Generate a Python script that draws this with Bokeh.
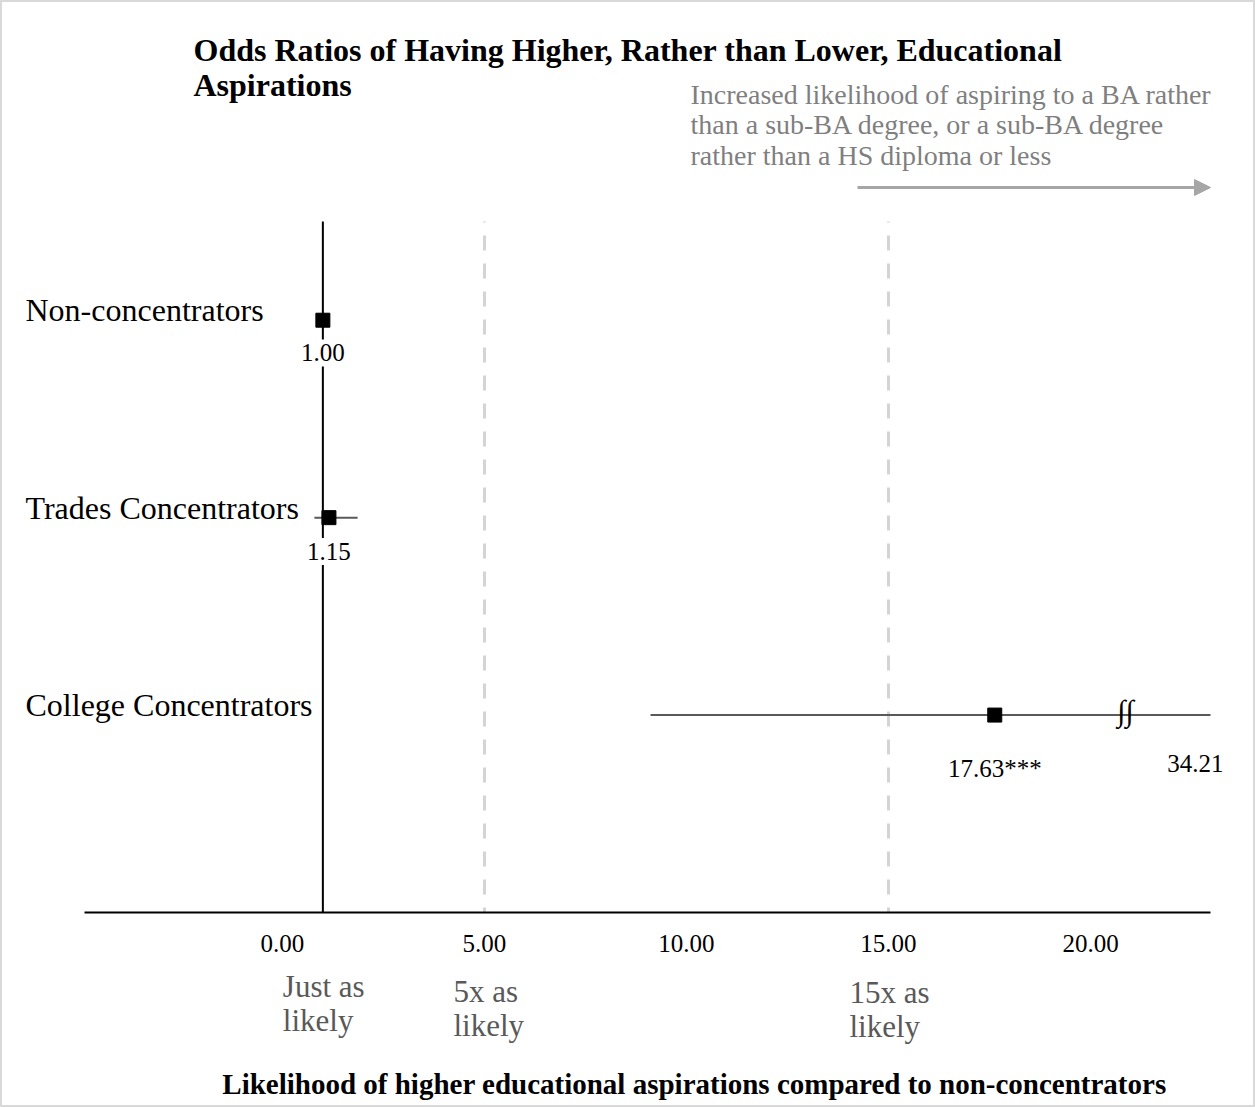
from bokeh.plotting import figure
from bokeh.models import Range1d, Arrow, NormalHead
from bokeh.core.properties import value
from bokeh.embed import file_html
from bokeh.resources import INLINE

# ---------------- data ----------------
categories = ["Non-concentrators", "Trades Concentrators", "College Concentrators"]
odds_ratio = [1.00, 1.15, 17.63]
ci_lower = [1.00, 0.79, 9.11]
ci_upper = [1.00, 1.86, 34.21]
significance = ["", "", "***"]
tick_values = [0, 5, 10, 15, 20]
reference_value = 1.0
dashed_refs = [5, 15]
guide_values = [1, 5, 15]
guide_lines = [["Just as", "likely"], ["5x as", "likely"], ["15x as", "likely"]]
title_lines = ["Odds Ratios of Having Higher, Rather than Lower, Educational", "Aspirations"]
note_lines = ["Increased likelihood of aspiring to a BA rather",
              "than a sub-BA degree, or a sub-BA degree",
              "rather than a HS diploma or less"]
x_title = "Likelihood of higher educational aspirations compared to non-concentrators"

# ---------------- layout ----------------
W, H = 1255, 1107
FL, FR, FT, FB = 84, 1210, 221, 912          # plot-area edges in pixels
X_MIN, X_MAX = -4.90, 22.97                  # value axis extent
Y_MIN, Y_MAX = 0.0, 3.5
FONT = "Liberation Serif"
BASE_FIX = 0.37                              # baseline correction (fraction of font size)

sx = (FR - FL) / (X_MAX - X_MIN)
sy = (FB - FT) / (Y_MAX - Y_MIN)


def dx(px):
    return X_MIN + (px - FL) / sx


def dy(py):
    return Y_MIN + (FB - py) / sy


rows = list(range(len(categories), 0, -1))

p = figure(width=W, height=H,
           x_range=Range1d(dx(0), dx(W)), y_range=Range1d(dy(H), dy(0)),
           output_backend="svg", toolbar_location=None,
           x_axis_location=None, y_axis_location=None, min_border=0)
p.outline_line_color = "#d9d9d9"
p.outline_line_width = 3
p.background_fill_color = "white"
p.border_fill_color = "white"
for g in p.grid:
    g.visible = False


def put(x, y, texts, size, color="black", align="left", baseline="alphabetic",
        style="normal", **kw):
    fs = float(size.replace("px", ""))
    shift = BASE_FIX * fs / sy if baseline == "alphabetic" else 5 / sy
    p.text(x=x, y=[v + shift for v in y], text=texts, text_font=value(FONT),
           text_font_size=value(size), text_color=color, text_align=align,
           text_baseline=baseline, text_font_style=value(style), **kw)


# dashed guide lines (behind the data)
p.segment(x0=dashed_refs, x1=dashed_refs, y0=[Y_MAX] * len(dashed_refs),
          y1=[Y_MIN] * len(dashed_refs), line_color="#d4d4d4", line_width=3,
          line_dash="15 13", line_dash_offset=14)

# confidence intervals (truncated at the axis end)
p.segment(x0=ci_lower, x1=[min(u, X_MAX) for u in ci_upper], y0=rows, y1=rows,
          line_color="#595959", line_width=2)

# reference line and axis line
p.segment(x0=[reference_value], x1=[reference_value], y0=[Y_MIN], y1=[Y_MAX],
          line_color="black", line_width=2)
p.segment(x0=[X_MIN], x1=[X_MAX], y0=[Y_MIN], y1=[Y_MIN], line_color="black", line_width=2)

# point estimates
p.scatter(x=odds_ratio, y=rows, marker="square", size=14, color="black")

# tick labels
put(tick_values, [dy(952)] * len(tick_values), [f"{t:.2f}" for t in tick_values],
    "25px", align="center")

# value labels
label_drop = [42, 43, 63]
put(odds_ratio, [r - d / sy for r, d in zip(rows, label_drop)],
    [f"{v:.2f}{s}" for v, s in zip(odds_ratio, significance)], "25px", align="center",
    background_fill_color="white", padding=5)

# truncated upper bound label and break mark
college = len(categories) - 1
put([X_MAX + 13 / sx], [rows[college] - 58 / sy], [f"{ci_upper[college]:.2f}"], "25px",
    align="right")
put([X_MAX - 85 / sx], [rows[college]], ["∫∫"], "30px", align="center",
    baseline="middle")

# category labels
put([dx(25)] * len(categories), [r - 2 / sy for r in rows], categories, "32px")

# title
put([dx(193)] * len(title_lines), [dy(61 + 35 * i) for i in range(len(title_lines))],
    title_lines, "32px", style="bold")

# note + arrow
put([dx(690)] * len(note_lines), [dy(104 + 30.5 * i) for i in range(len(note_lines))],
    note_lines, "28px", color="#7f7f7f")
p.add_layout(Arrow(end=NormalHead(size=16, fill_color="#a6a6a6", line_color="#a6a6a6"),
                   x_start=dx(857), y_start=dy(187), x_end=X_MAX, y_end=dy(187),
                   line_color="#a6a6a6", line_width=3))

# guide labels below the axis
guide_shift = [-40, -31, -39]
guide_base = [997, 1002, 1003]
for v, lines, sh, b in zip(guide_values, guide_lines, guide_shift, guide_base):
    put([v] * len(lines), [dy(b + 34 * j) for j in range(len(lines))], lines, "31px",
        color="#595959", x_offset=sh)

# axis title
put([dx(694)], [dy(1094)], [x_title], "29px", align="center", style="bold")

open("out.html", "w").write(file_html(p, INLINE))
